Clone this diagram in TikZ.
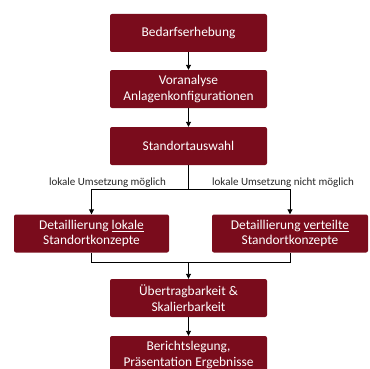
\documentclass[tikz,border=0pt]{standalone}
\usepackage{fontspec}
\setmainfont{Carlito}
\usetikzlibrary{arrows.meta}
\definecolor{boxred}{RGB}{122,12,28}
\begin{document}
\begin{tikzpicture}[x=1pt,y=-1pt,
  box/.style={fill=boxred, text=white, rounded corners=2pt, minimum height=38pt, inner sep=2pt,
    align=center, font=\fontsize{13.4}{15.5}\selectfont},
  wbox/.style={box, minimum width=157pt},
  conn/.style={draw=black, line width=0.9pt},
  arr/.style={conn, -{Triangle[length=5pt,width=5pt]}},
  lbl/.style={text=black!85, font=\fontsize{11}{12}\selectfont, inner sep=0pt}]
\clip (0,0) rectangle (369,369);
\useasboundingbox (0,0) rectangle (369,369);
\node[wbox] (b1) at (188.5,33) {Bedarfserhebung};
\node[wbox] (b2) at (188.5,89) {Voranalyse\\Anlagenkonfigurationen};
\node[wbox] (b3) at (188.5,146) {Standortauswahl};
\node[box, minimum width=155pt] (bl) at (91.5,233.5) {Detaillierung \underline{lokale}\\Standortkonzepte};
\node[box, minimum width=156pt] (br) at (290,233.5) {Detaillierung \underline{verteilte}\\Standortkonzepte};
\node[wbox] (b5) at (188.5,298) {Übertragbarkeit \&\\Skalierbarkeit};
\node[wbox] (b6) at (188.5,355) {Berichtslegung,\\Präsentation Ergebnisse};
\coordinate (split) at (188.5,189);
\coordinate (sl) at (91.5,189);
\coordinate (sr) at (290,189);
\coordinate (ml) at (91.5,262);
\coordinate (mr) at (290,262);
\coordinate (mm) at (188.5,262);
\draw[arr] (b1) -- (b2);
\draw[arr] (b2) -- (b3);
\draw[conn] (b3) -- (split);
\draw[conn] (sl) -- (sr);
\draw[arr] (sl) -- (bl);
\draw[arr] (sr) -- (br);
\draw[conn] (bl) -- (ml) -- (mr) -- (br);
\draw[arr] (mm) -- (b5);
\draw[arr] (b5) -- (b6);
\node[lbl] (l1) at (107.5,182.5) {lokale Umsetzung möglich};
\node[lbl] (l2) at (283,182.5) {lokale Umsetzung nicht möglich};
\end{tikzpicture}
\end{document}
